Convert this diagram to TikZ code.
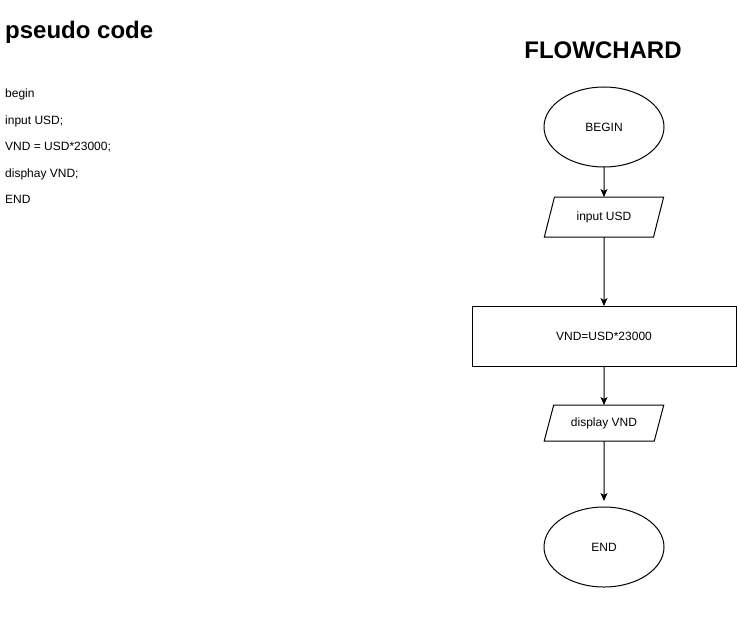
\documentclass[tikz,border=0pt]{standalone}
\usepackage{fontspec}
\setmainfont{Liberation Sans}
\usepackage{tikz}
\usetikzlibrary{shapes,shapes.geometric,arrows.meta,positioning}
\tikzstyle{terminal} = [ellipse, draw=black, line width=1pt, fill=none, text=black, text centered, font=\fontsize{12}{14}\selectfont, minimum width=120pt, minimum height=80pt, inner sep=0pt, outer sep=0pt]
\tikzstyle{io} = [trapezium, trapezium stretches=true, draw=black, line width=1pt, text=black, text centered, font=\fontsize{12}{14}\selectfont, minimum width=120pt, inner sep=0pt, outer sep=0pt]
\tikzstyle{process} = [rectangle, draw=black, line width=1pt, text=black, text centered, font=\fontsize{12}{14}\selectfont, minimum width=264pt, minimum height=60pt, inner sep=0pt, outer sep=0pt]
\tikzstyle{code} = [anchor=base west, inner sep=0pt, text=black, font=\fontsize{12}{14}\selectfont]
\tikzstyle{title} = [anchor=base, inner sep=0pt, text=black, font=\bfseries]
\tikzstyle{tedge}  = [draw, line width=1pt, >={Stealth[length=8pt, width=7pt, inset=2pt]}, ->]
\begin{document}
\begin{tikzpicture}[x=1pt, y=-1pt]
\useasboundingbox (0,0) rectangle (737,631);

% pseudo code =============================
\node[title, anchor=base west, font=\bfseries\fontsize{24}{28}\selectfont] (pctitle) at (5,39) {pseudo code};
\node[code] (l1) at (5,98) {begin};
\node[code] (l2) at (5,125) {input USD;};
\node[code] (l3) at (5,151) {VND = USD*23000;};
\node[code] (l4) at (5,178) {disphay VND;};
\node[code] (l5) at (5,204) {END};

% flowchart =============================
\node[title, font=\bfseries\fontsize{24}{28}\selectfont] (fctitle) at (603,59) {FLOWCHARD};
\node[terminal] (begin) at (604,127) {BEGIN};
\node[io, below=30pt of begin, minimum height=40pt, trapezium left angle=63.4, trapezium right angle=116.6] (inusd) {input USD};
\node[process, below=69pt of inusd] (calc) {VND=USD*23000};
\node[io, below=39pt of calc, minimum height=36pt, trapezium left angle=60.9, trapezium right angle=119.1] (outvnd) {display VND};
\node[terminal, below=66pt of outvnd] (finish) {END};

% edges
\path[tedge] (begin) edge (inusd);
\path[tedge] (inusd) edge (calc);
\path[tedge] (calc) edge (outvnd);
\path[tedge] (outvnd) edge[shorten >=6pt] (finish);

\end{tikzpicture}
\end{document}
